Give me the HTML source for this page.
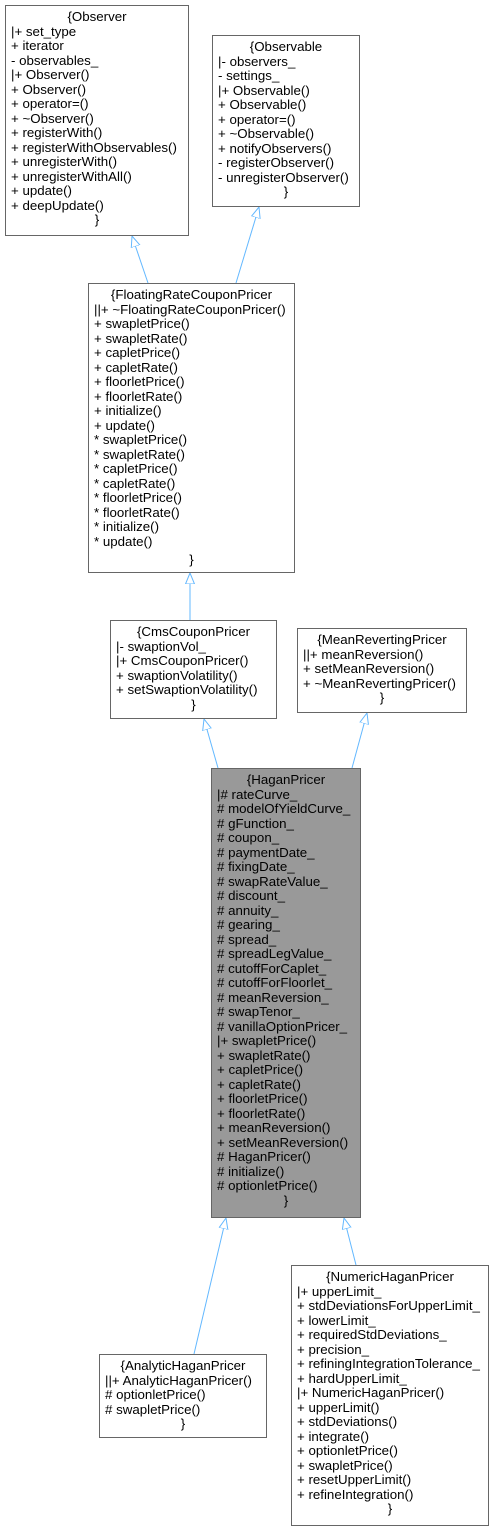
<!DOCTYPE html>
<html><head><meta charset="utf-8"><style>
body{margin:0;width:495px;height:1532px;background:#fff;position:relative;overflow:hidden;font-family:"Liberation Sans",Arial,sans-serif;font-size:13.3px;color:#000}
.b{position:absolute;box-sizing:border-box;border:1px solid #666;background:#fff;padding:4px 0 0 5px;line-height:14.5px;white-space:pre}
.b div.c{text-align:center;padding-right:5px}
svg{position:absolute;left:0;top:0}
</style></head><body>
<svg width="495" height="1532">
<defs><marker id="a" markerWidth="12" markerHeight="10" refX="11" refY="5" orient="auto" markerUnits="userSpaceOnUse"><path d="M11,5 L0,0.5 L0,9.5 Z" fill="#fff" stroke="#63b8ff"/></marker></defs>
<g stroke="#63b8ff" stroke-width="1" fill="none">
<line x1="148" y1="283" x2="132" y2="236" marker-end="url(#a)"/>
<line x1="236" y1="283" x2="259" y2="207" marker-end="url(#a)"/>
<line x1="190" y1="620" x2="190" y2="573" marker-end="url(#a)"/>
<line x1="218" y1="768" x2="204" y2="719" marker-end="url(#a)"/>
<line x1="352" y1="768" x2="367" y2="713" marker-end="url(#a)"/>
<line x1="194" y1="1354" x2="226" y2="1218" marker-end="url(#a)"/>
<line x1="356" y1="1265" x2="344" y2="1218" marker-end="url(#a)"/>
</g></svg>
<div class="b" style="left:5px;top:5px;width:184px;height:231px"><div class="c">{Observer</div>|+ set_type
+ iterator
- observables_
|+ Observer()
+ Observer()
+ operator=()
+ ~Observer()
+ registerWith()
+ registerWithObservables()
+ unregisterWith()
+ unregisterWithAll()
+ update()
+ deepUpdate()
<div class="c">}</div></div>
<div class="b" style="left:212px;top:35px;width:148px;height:172px"><div class="c">{Observable</div>|- observers_
- settings_
|+ Observable()
+ Observable()
+ operator=()
+ ~Observable()
+ notifyObservers()
- registerObserver()
- unregisterObserver()
<div class="c">}</div></div>
<div class="b" style="left:88px;top:283px;width:207px;height:290px"><div class="c">{FloatingRateCouponPricer</div>||+ ~FloatingRateCouponPricer()
+ swapletPrice()
+ swapletRate()
+ capletPrice()
+ capletRate()
+ floorletPrice()
+ floorletRate()
+ initialize()
+ update()
* swapletPrice()
* swapletRate()
* capletPrice()
* capletRate()
* floorletPrice()
* floorletRate()
* initialize()
* update()
<div class="c" style="margin-top:4px">}</div></div>
<div class="b" style="left:110px;top:620px;width:167px;height:99px"><div class="c">{CmsCouponPricer</div>|- swaptionVol_
|+ CmsCouponPricer()
+ swaptionVolatility()
+ setSwaptionVolatility()
<div class="c">}</div></div>
<div class="b" style="left:297px;top:628px;width:170px;height:85px"><div class="c">{MeanRevertingPricer</div>||+ meanReversion()
+ setMeanReversion()
+ ~MeanRevertingPricer()
<div class="c">}</div></div>
<div class="b" style="left:211px;top:768px;width:150px;height:450px;background:#999"><div class="c">{HaganPricer</div>|# rateCurve_
# modelOfYieldCurve_
# gFunction_
# coupon_
# paymentDate_
# fixingDate_
# swapRateValue_
# discount_
# annuity_
# gearing_
# spread_
# spreadLegValue_
# cutoffForCaplet_
# cutoffForFloorlet_
# meanReversion_
# swapTenor_
# vanillaOptionPricer_
|+ swapletPrice()
+ swapletRate()
+ capletPrice()
+ capletRate()
+ floorletPrice()
+ floorletRate()
+ meanReversion()
+ setMeanReversion()
# HaganPricer()
# initialize()
# optionletPrice()
<div class="c">}</div></div>
<div class="b" style="left:99px;top:1354px;width:168px;height:84px"><div class="c">{AnalyticHaganPricer</div>||+ AnalyticHaganPricer()
# optionletPrice()
# swapletPrice()
<div class="c">}</div></div>
<div class="b" style="left:291px;top:1265px;width:198px;height:261px"><div class="c">{NumericHaganPricer</div>|+ upperLimit_
+ stdDeviationsForUpperLimit_
+ lowerLimit_
+ requiredStdDeviations_
+ precision_
+ refiningIntegrationTolerance_
+ hardUpperLimit_
|+ NumericHaganPricer()
+ upperLimit()
+ stdDeviations()
+ integrate()
+ optionletPrice()
+ swapletPrice()
+ resetUpperLimit()
+ refineIntegration()
<div class="c">}</div></div>
</body></html>
